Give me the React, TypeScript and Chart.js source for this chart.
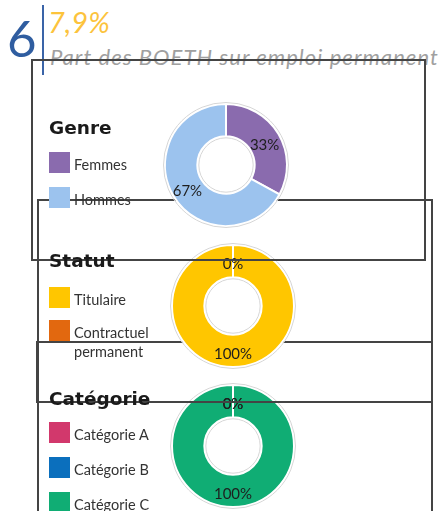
import React, { useEffect, useRef } from "react";
import { Chart, registerables } from "chart.js";

Chart.register(...registerables);

// ---- data ----
const headlineNumber = "6";
const headlineRate = "7,9%";
const headlineCaption = "Part des BOETH sur emploi permanent";

const genreTitle = "Genre";
const genreLabels = ["Femmes", "Hommes"];
const genreValues = [33, 67];
const genreColors = ["#8a6bae", "#9cc3ee"];

const statutTitle = "Statut";
const statutLabels = ["Titulaire", "Contractuel permanent"];
const statutValues = [100, 0];
const statutColors = ["#ffc600", "#e2680f"];

const categorieTitle = "Catégorie";
const categorieLabels = ["Catégorie A", "Catégorie B", "Catégorie C"];
const categorieValues = [0, 0, 100];
const categorieColors = ["#d2386c", "#0b6fbd", "#10ad74"];

const SIZE = 136;
const OUTER = 61;
const INNER = 31.5;

const ringPlugin = {
  id: "ringAndLabels",
  afterDatasetsDraw(chart: any) {
    const ctx = chart.ctx;
    const meta = chart.getDatasetMeta(0);
    const data = chart.data.datasets[0].data as number[];
    const first = meta.data[0] as any;
    const cx = first.x;
    const cy = first.y;
    ctx.save();
    ctx.strokeStyle = "#d6d6d6";
    ctx.lineWidth = 1;
    ctx.beginPath();
    ctx.arc(cx, cy, first.outerRadius + 1.5, 0, Math.PI * 2);
    ctx.stroke();
    ctx.beginPath();
    ctx.arc(cx, cy, first.innerRadius - 1.5, 0, Math.PI * 2);
    ctx.stroke();
    ctx.font = "15px Lato";
    ctx.fillStyle = "#1e1e1e";
    ctx.textAlign = "center";
    ctx.textBaseline = "middle";
    meta.data.forEach((arc: any, i: number) => {
      const p = arc.tooltipPosition(false);
      ctx.fillText(data[i] + "%", p.x, p.y + 3);
    });
    ctx.restore();
  },
};

function Donut(props: { values: number[]; colors: string[]; labels: string[]; cx: number; cy: number; z: number }) {
  const ref = useRef<HTMLCanvasElement>(null);
  useEffect(() => {
    const chart = new Chart(ref.current as HTMLCanvasElement, {
      type: "doughnut",
      data: {
        labels: props.labels,
        datasets: [
          {
            data: props.values,
            backgroundColor: props.colors,
            borderColor: "#ffffff",
            borderWidth: 2,
          },
        ],
      },
      options: {
        responsive: false,
        animation: false,
        radius: OUTER,
        cutout: INNER,
        layout: { padding: 0 },
        events: [],
        plugins: { legend: { display: false }, tooltip: { enabled: false } },
      } as any,
      plugins: [ringPlugin],
    });
    return () => chart.destroy();
  }, []);
  return (
    <canvas
      ref={ref}
      width={SIZE}
      height={SIZE}
      style={{ position: "absolute", left: props.cx - SIZE / 2, top: props.cy - SIZE / 2, width: SIZE, height: SIZE, zIndex: props.z }}
    />
  );
}

function Legend(props: { title: string; labels: string[]; colors: string[]; top: number; first: number; gap: number }) {
  return (
    <div style={{ position: "absolute", left: 0, top: 0, zIndex: 6 }}>
      <div
        style={{
          position: "absolute",
          left: 49,
          top: props.top,
          fontFamily: "'DejaVu Sans'",
          fontWeight: "bold",
          fontSize: 18.5,
          lineHeight: "20px",
          color: "#1a1a1a",
          whiteSpace: "nowrap",
        }}
      >
        {props.title}
      </div>
      {props.labels.map((l, i) => (
        <div key={l} style={{ position: "absolute", left: 49, top: props.top + props.first + props.gap * i, display: "flex", alignItems: "flex-start" }}>
          <div style={{ width: 21, height: 21, background: props.colors[i], flex: "0 0 auto" }} />
          <div
            style={{
              marginLeft: 4,
              width: 90,
              fontFamily: "Lato",
              fontSize: 14.5,
              lineHeight: "19px",
              color: "#333333",
              paddingTop: 3,
            }}
          >
            {l}
          </div>
        </div>
      ))}
    </div>
  );
}

function Box(props: { l: number; t: number; r: number; b: number; z: number }) {
  return (
    <div
      style={{
        position: "absolute",
        left: props.l,
        top: props.t,
        width: props.r - props.l,
        height: props.b - props.t,
        border: "2px solid #444444",
        boxSizing: "border-box",
        zIndex: props.z,
      }}
    />
  );
}

export default function App() {
  return (
    <div style={{ position: "absolute", left: 0, top: 0, width: 439, height: 511, overflow: "hidden", background: "#ffffff" }}>
      <div style={{ position: "absolute", left: 7, top: 8, fontFamily: "Lato", fontSize: 51, lineHeight: "60px", color: "#2f5da0" }}>
        {headlineNumber}
      </div>
      <div style={{ position: "absolute", left: 42, top: 5, width: 2, height: 70, background: "#3a64a8" }} />
      <div
        style={{ position: "absolute", left: 48, top: 4, fontFamily: "Lato", fontStyle: "italic", fontSize: 29, lineHeight: "36px", color: "#fcc33c" }}
      >
        {headlineRate}
      </div>
      <div
        style={{
          position: "absolute",
          left: 50,
          top: 44,
          fontFamily: "Lato",
          fontStyle: "italic",
          fontSize: 22,
          lineHeight: "26px",
          color: "#a0a0a0",
          whiteSpace: "nowrap",
          letterSpacing: 1.05,
          zIndex: 0,
        }}
      >
        {headlineCaption}
      </div>

      <Box l={37} t={199} r={433} b={560} z={1} />
      <Box l={36} t={341} r={433} b={403} z={3} />
      <Box l={31} t={59} r={426} b={261} z={5} />

      <Donut values={genreValues} colors={genreColors} labels={genreLabels} cx={226} cy={165} z={4} />
      <Donut values={statutValues} colors={statutColors} labels={statutLabels} cx={233} cy={306} z={4} />
      <Donut values={categorieValues} colors={categorieColors} labels={categorieLabels} cx={233} cy={446} z={2} />

      <Legend title={genreTitle} labels={genreLabels} colors={genreColors} top={118} first={34} gap={35} />
      <Legend title={statutTitle} labels={statutLabels} colors={statutColors} top={251} first={36} gap={33} />
      <Legend title={categorieTitle} labels={categorieLabels} colors={categorieColors} top={389} first={33} gap={35} />
    </div>
  );
}
